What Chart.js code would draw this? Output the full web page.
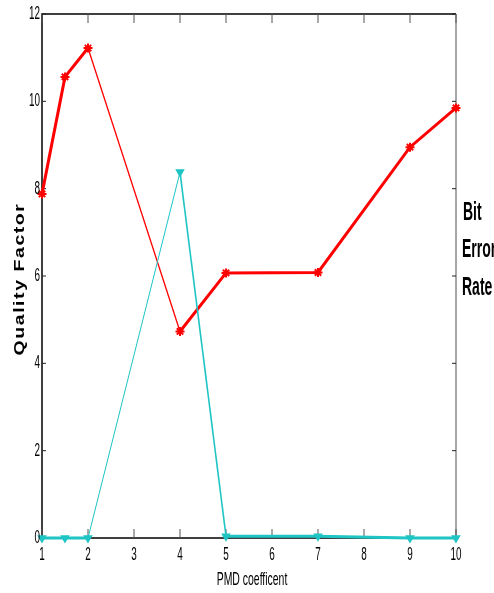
<!DOCTYPE html>
<html>
<head>
<meta charset="utf-8">
<script src="https://cdn.jsdelivr.net/npm/chart.js@4.4.1/dist/chart.umd.min.js"></script>
<style>
  html, body { margin: 0; padding: 0; background: #ffffff; }
  canvas { display: block; }
</style>
</head>
<body>
<canvas id="qfChart" width="494" height="593"></canvas>
<script>
// waarden
const pmdValues = [1, 1.5, 2, 4, 5, 7, 9, 10];
const qualityFactor = [7.88, 10.56, 11.22, 4.73, 6.07, 6.08, 8.95, 9.85];
const bitErrorRate = [0, 0, 0, 8.38, 0.04, 0.04, 0, 0];
const xTickValues = [1, 2, 3, 4, 5, 6, 7, 8, 9, 10];
const yTickValues = [0, 2, 4, 6, 8, 10, 12];

const sansFont = '"Liberation Sans", Arial, sans-serif';

// lijndikte per segment (de stukken tussen 2 en 4 zijn dun)
const redWidths = [3, 3, 1.3, 3, 3, 3, 3];
const cyanWidths = [3, 3, 1, 1.6, 3, 3, 3];

// tekst smal en hoog tekenen, zoals in het origineel
function drawStretched(ctx, text, x, y, sx, sy, align) {
    ctx.save();
    ctx.translate(x, y);
    ctx.scale(sx, sy);
    ctx.textAlign = align;
    ctx.textBaseline = 'middle';
    ctx.fillText(text, 0, 0);
    ctx.restore();
}

// assen, kader en naar binnen wijzende tickjes
const framePlugin = {
    id: 'frame',
    beforeDatasetsDraw(chart) {
        const { ctx, chartArea: a, scales } = chart;
        ctx.save();
        ctx.lineWidth = 1.5;
        ctx.strokeStyle = '#000';
        ctx.beginPath();
        ctx.moveTo(a.left, a.bottom); ctx.lineTo(a.left, a.top); ctx.lineTo(a.right, a.top);
        ctx.moveTo(a.left, a.bottom); ctx.lineTo(a.right, a.bottom);
        ctx.stroke();
        ctx.strokeStyle = '#888';
        ctx.beginPath();
        ctx.moveTo(a.right, a.top); ctx.lineTo(a.right, a.bottom);
        ctx.stroke();

        ctx.lineWidth = 1;
        ctx.strokeStyle = '#555';
        scales.x.ticks.forEach(t => {
            const px = scales.x.getPixelForValue(t.value);
            ctx.beginPath();
            ctx.moveTo(px, a.bottom); ctx.lineTo(px, a.bottom - 9);
            ctx.moveTo(px, a.top); ctx.lineTo(px, a.top + 9);
            ctx.stroke();
        });
        ctx.strokeStyle = '#222';
        scales.y.ticks.forEach(t => {
            const py = scales.y.getPixelForValue(t.value);
            ctx.beginPath();
            ctx.moveTo(a.left, py); ctx.lineTo(a.left + 4, py);
            ctx.moveTo(a.right, py); ctx.lineTo(a.right - 4, py);
            ctx.stroke();
        });
        ctx.restore();
    },
    afterDraw(chart) {
        const { ctx, chartArea: a, scales } = chart;
        ctx.save();
        ctx.fillStyle = '#000';

        // ticklabels
        ctx.font = '18px ' + sansFont;
        scales.x.ticks.forEach(t => {
            drawStretched(ctx, String(t.value), scales.x.getPixelForValue(t.value), a.bottom + 17, 0.55, 1.05, 'center');
        });
        scales.y.ticks.forEach(t => {
            drawStretched(ctx, String(t.value), a.left - 2, scales.y.getPixelForValue(t.value), 0.55, 1, 'right');
        });

        // x-as titel
        ctx.font = '19px ' + sansFont;
        drawStretched(ctx, 'PMD coefficent', 252, 580, 0.55, 1, 'center');

        // y-as titel
        ctx.save();
        ctx.translate(20, 279);
        ctx.rotate(-Math.PI / 2);
        ctx.font = 'bold 15px ' + sansFont;
        ctx.letterSpacing = '1.2px';
        drawStretched(ctx, 'Quality Factor', 0, 0, 1.3, 1, 'center');
        ctx.restore();

        // rechter titel
        ctx.font = 'bold 25px ' + sansFont;
        drawStretched(ctx, 'Bit', 463, 213, 0.56, 1, 'left');
        drawStretched(ctx, 'Error', 462, 250, 0.56, 1, 'left');
        drawStretched(ctx, 'Rate', 462, 288, 0.56, 1, 'left');
        ctx.restore();
    }
};

const ctx = document.getElementById('qfChart').getContext('2d');
new Chart(ctx, {
    type: 'line',
    data: {
        datasets: [
            {
                label: 'Bit Error Rate',
                data: pmdValues.map((x, i) => ({ x: x, y: bitErrorRate[i] })),
                borderColor: '#1fc4c4',
                backgroundColor: '#1fc4c4',
                pointStyle: 'triangle',
                rotation: 180,
                pointRadius: 4,
                pointBorderWidth: 1.5,
                segment: { borderWidth: c => cyanWidths[c.p0DataIndex] },
                tension: 0,
                clip: false
            },
            {
                label: 'Quality Factor',
                data: pmdValues.map((x, i) => ({ x: x, y: qualityFactor[i] })),
                borderColor: '#ff0000',
                backgroundColor: '#ff0000',
                pointStyle: 'star',
                pointRadius: 4.5,
                pointBorderWidth: 2,
                segment: { borderWidth: c => redWidths[c.p0DataIndex] },
                tension: 0,
                clip: false
            }
        ]
    },
    options: {
        responsive: false,
        animation: false,
        layout: { padding: { left: 0, right: 38, top: 14, bottom: 0 } },
        plugins: {
            legend: { display: false },
            tooltip: { enabled: false }
        },
        scales: {
            x: {
                type: 'linear',
                min: 1,
                max: 10,
                afterBuildTicks: s => { s.ticks = xTickValues.map(v => ({ value: v })); },
                afterFit: s => { s.height = 55; },
                grid: { display: false, drawTicks: false },
                border: { display: false },
                ticks: { display: false }
            },
            y: {
                min: 0,
                max: 12,
                afterBuildTicks: s => { s.ticks = yTickValues.map(v => ({ value: v })); },
                afterFit: s => { s.width = 42; },
                grid: { display: false, drawTicks: false },
                border: { display: false },
                ticks: { display: false }
            }
        }
    },
    plugins: [framePlugin]
});
</script>
</body>
</html>
